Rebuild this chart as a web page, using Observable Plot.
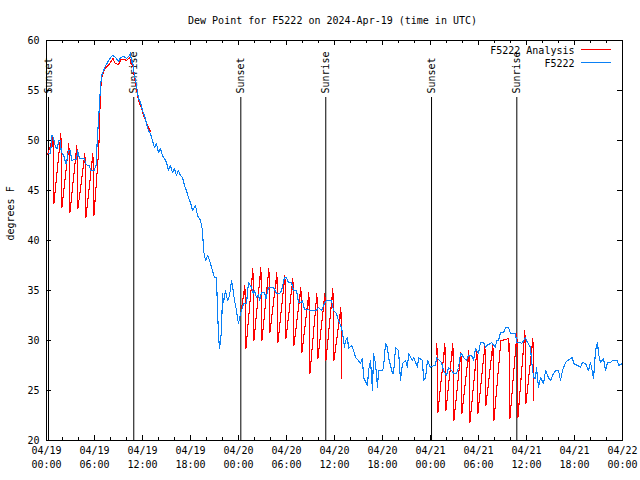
<!DOCTYPE html>
<html><head><meta charset="utf-8">
<script src="https://cdn.jsdelivr.net/npm/d3@7"></script>
<script src="https://cdn.jsdelivr.net/npm/@observablehq/plot@0.6"></script>
<style>body{margin:0;background:#fff} svg{display:block}</style>
</head><body><div id="chart"></div>
<script>
// Observed dew point (F) : [hours since 04/19 00:00 UTC, value]
const obsDewPoint = [
[0.25,48.7],[0.5,48.7],[0.69,50.5],[0.88,50.3],[1.0,49.7],[1.25,49.2],[1.38,49.2],[1.5,50],[1.75,50],[1.84,48.8],
[2.0,48.7],[2.25,48.3],[2.38,47.7],[2.5,47.7],[2.63,48.5],[2.75,49],[3.0,49],[3.13,48],[3.25,48],[3.44,48.1],
[3.75,48.1],[3.88,49],[4.13,48.2],[4.38,48.2],[4.75,48.2],[4.88,47.7],[5.13,47.5],[5.38,47.5],[5.5,47],[6.0,47],
[6.13,47.5],[6.21,47.5],[6.34,50],[6.5,52],[6.75,55.3],[6.88,56.5],[7.13,57],[7.38,57.5],[7.63,57.8],[8.0,58.3],
[8.25,58.5],[8.63,58.3],[9.0,57.9],[9.25,58.3],[9.63,58.4],[10.0,58.2],[10.38,58.5],[10.5,58.8],[10.63,57.8],[10.75,58],
[11.0,56.5],[11.25,55.5],[11.5,54.2],[11.75,53.8],[12.0,53],[12.25,52.5],[12.5,51.7],[12.75,51],[13.0,50.7],[13.25,50],
[13.5,49.3],[13.75,49.7],[14.0,48.8],[14.25,49.2],[14.5,48.5],[14.75,48.2],[15.0,47.8],[15.25,47],[15.5,47.5],[15.75,46.8],
[16.0,47.2],[16.25,46.5],[16.5,47],[16.75,46.5],[17.0,46.3],[17.25,45.5],[17.5,45],[17.75,44.3],[18.0,43.8],[18.25,43],
[18.63,43.5],[18.88,42.5],[19.25,42],[19.5,41],[19.63,39],[19.88,38],[20.13,38.5],[20.38,38],[20.75,37],[21.0,36.3],
[21.25,36.3],[21.38,33],[21.5,30.5],[21.63,29.2],[21.75,30],[21.88,31],[22.0,34.7],[22.13,33.8],[22.38,35],[22.63,34],
[22.88,34.5],[23.13,36],[23.25,35.5],[23.5,34],[23.75,33],[23.88,32.2],[24.0,31.7],[24.25,32.7],[24.38,33],[24.63,33.7],
[25.0,33.7],[25.25,35.8],[25.63,35.3],[25.84,34.7],[26.0,35],[26.25,34.3],[26.5,34.6],[26.63,34],[26.88,34.8],[27.25,34.8],
[27.44,34.2],[27.75,35.3],[28.38,35.3],[28.56,35],[28.75,34.7],[29.13,34.7],[29.38,35],[29.75,36.3],[30.0,36.3],[30.25,35.8],
[30.63,35.8],[30.88,35],[31.25,35],[31.5,33.8],[31.88,33.8],[32.0,34],[32.25,33.1],[32.75,33.1],[32.88,33],[33.75,33],
[34.0,33.3],[34.38,33],[34.75,33.7],[35.0,34],[35.63,34],[35.88,33],[36.25,32.7],[36.5,32],[36.88,31.3],[37.09,30.3],
[37.25,29.3],[37.38,30],[37.63,30.3],[37.75,29.2],[38.13,29.5],[38.38,29],[38.63,28.3],[39.0,28],[39.25,27.7],[39.5,28.2],
[39.63,26.3],[40.13,25.5],[40.25,27],[40.5,28],[40.75,25],[40.88,28.7],[41.13,27.7],[41.38,25.3],[41.5,27],[42.0,27],
[42.13,27.3],[42.38,29.7],[42.63,29.3],[42.75,28.3],[43.25,26.7],[43.38,26.7],[43.63,29.3],[44.0,29],[44.25,26],[44.5,27.7],
[44.88,28],[45.13,27.3],[45.25,28.7],[45.75,28],[45.88,28.3],[46.38,27.3],[46.5,28.3],[47.0,28],[47.13,26],[47.38,26.3],
[47.63,28],[48.0,27.3],[48.38,27.5],[48.63,27.5],[48.75,28.3],[49.38,27.8],[49.63,27],[50.0,26.5],[50.25,27.3],[50.63,27],
[50.88,26.7],[51.25,26.7],[51.5,27.3],[51.75,28.7],[51.88,28.7],[52.13,28.3],[52.5,28],[52.75,28.5],[53.13,28.5],[53.38,28],
[53.63,29.2],[54.0,28.7],[54.25,29.8],[54.63,29.8],[54.88,29.3],[55.0,29.5],[55.5,29.7],[55.63,29.8],[56.13,29.3],[56.25,30],
[56.5,30],[56.75,30.8],[57.13,30.8],[57.38,31.3],[57.75,31.3],[58.0,30.7],[58.63,30.7],[58.75,29.8],[59.25,29.8],[59.38,29.7],
[59.88,30.3],[60.0,30],[60.5,29.3],[60.63,28],[60.88,26.3],[61.13,26.2],[61.25,27.3],[61.5,25.3],[61.75,26.3],[62.13,25.7],
[62.38,27],[62.75,26.3],[63.0,26],[63.38,26.7],[63.63,27],[64.0,27],[64.25,26],[64.5,27],[64.88,27.8],[65.13,28],
[65.75,28.3],[65.88,27.7],[66.38,27.5],[66.75,27.3],[67.0,27.8],[67.38,27.7],[67.75,27],[68.0,27.8],[68.25,26.8],[68.38,26.2],
[68.63,29],[68.88,29.8],[69.0,28.7],[69.25,27.8],[69.63,28.2],[69.88,27],[70.13,27.8],[70.5,27.8],[70.75,28],[71.38,28],
[71.5,27.5],[72.0,27.7]
];

// Analysis (red) — three runs. Each run: lead points, hourly high/low values, tail points
const anaA_lead  = [[0.15,48.6]];
const anaA_hours = [0,1,2,3,4,5];
const anaA_high  = [50.3,50.7,49.7,49.5,48.7,48.7];
const anaA_low   = [43.7,43.3,42.8,43.2,42.3,42.5];
const anaA_tail  = [[6.4,47.6],[6.55,49.5],[6.75,55],[6.9,56.3],[7.1,56.8],[7.4,57.3],[7.7,57.5],[8.0,57.8],[8.3,58.2],[8.6,57.7],
                    [9.0,57.6],[9.3,58.1],[9.7,58.1],[10.0,58.0],[10.4,58.3],[10.6,57.6],[10.8,57.5],[11.0,56.2],[11.3,55],
                    [11.5,54],[11.8,53.4],[12.1,52.6],[12.4,52.0],[12.7,51.4],[13.0,50.9]];

const anaB_lead  = [[24.35,33.0]];
const anaB_hours = [24,25,26,27,28,29,30,31,32,33,34,35,36];
const anaB_high  = [35.5,37.2,37.3,37.2,36.8,36.5,36.2,35.3,34.8,34.7,34.7,35.2,33.3];
const anaB_low   = [29.2,30.0,30.0,30.8,29.8,30.2,29.5,28.8,26.7,28.2,28.0,28.0,26.2];
const anaB_tail  = [];

const anaC_lead  = [];
const anaC_hours = [48,49,50,51,52,53,54,55,56,57,58,59,60];
const anaC_high  = [29.7,29.7,29.7,28.8,29.0,29.0,29.5,29.7,30.0,30.2,30.7,31.0,30.2];
const anaC_low   = [22.8,23.0,22.0,22.7,21.8,22.7,23.5,22.0,30.0,22.2,22.3,23.7,24.0];
const anaC_tail  = [];

// Sun events
const sunHours  = [0.25,10.91,24.29,34.91,48.13,58.79];
const sunLabels = ["Sunset","Sunrise","Sunset","Sunrise","Sunset","Sunrise"];

// Axis ticks
const xTickHours = [0,6,12,18,24,30,36,42,48,54,60,66,72];
const xTickDate  = ["04/19","04/19","04/19","04/19","04/20","04/20","04/20","04/20","04/21","04/21","04/21","04/21","04/22"];
const xTickTime  = ["00:00","06:00","12:00","18:00","00:00","06:00","12:00","18:00","00:00","06:00","12:00","18:00","00:00"];
const xMinorHours = d3.range(0, 73, 2).filter(h => h % 6 !== 0);
const yTicks = [20,25,30,35,40,45,50,55,60];

const titleText = "Dew Point for F5222 on 2024-Apr-19 (time in UTC)";
const yLabel = "degrees F";
const legendNames = ["F5222 Analysis","F5222"];
const RED = "#ff0000", BLUE = "#0a80f5";
const FONT = "DejaVu Sans Mono, monospace";

// ---- build tables
const obs = obsDewPoint.map(([h, v]) => ({h, v}));
function run(name, lead, hours, highs, lows, tail) {
  const pts = lead.map(([h, v]) => ({h, v, run: name}));
  hours.forEach((hr, i) => {
    pts.push({h: hr + 0.8, v: highs[i], run: name});
    pts.push({h: hr + 0.93, v: lows[i], run: name});
  });
  tail.forEach(([h, v]) => pts.push({h, v, run: name}));
  return pts;
}
const analysis = [
  ...run("A", anaA_lead, anaA_hours, anaA_high, anaA_low, anaA_tail),
  ...run("B", anaB_lead, anaB_hours, anaB_high, anaB_low, anaB_tail),
  ...run("C", anaC_lead, anaC_hours, anaC_high, anaC_low, anaC_tail)
];
const sun = sunHours.map((h, i) => ({h, label: sunLabels[i]}));

const chart = Plot.plot({
  width: 640, height: 480,
  marginLeft: 46, marginRight: 18, marginTop: 40, marginBottom: 40,
  style: {fontFamily: FONT, fontSize: "10px", background: "#fff", color: "#000"},
  x: {domain: [0, 72], axis: null},
  y: {domain: [20, 60], axis: null},
  marks: [
    // sunrise / sunset lines and labels
    Plot.ruleX(sun, {x: "h", stroke: "#000", strokeWidth: 1, insetTop: 57}),
    Plot.text(sun, {x: "h", frameAnchor: "top", dy: 53, text: "label", rotate: -90,
      textAnchor: "start", lineAnchor: "middle", fill: "#000", fontSize: 10}),
    // data
    Plot.line(analysis, {x: "h", y: "v", z: "run", stroke: RED, strokeWidth: 1.1, shapeRendering: "crispEdges"}),
    Plot.line(obs, {x: "h", y: "v", stroke: BLUE, strokeWidth: 1.1, shapeRendering: "crispEdges"}),
    // ticks (inward, mirrored)
    Plot.tickX(xTickHours, {x: d => d, insetTop: 395, stroke: "#000"}),
    Plot.tickX(xTickHours, {x: d => d, insetBottom: 395, stroke: "#000"}),
    Plot.tickX(xMinorHours, {x: d => d, insetTop: 397, stroke: "#000"}),
    Plot.tickX(xMinorHours, {x: d => d, insetBottom: 397, stroke: "#000"}),
    Plot.tickY(yTicks, {y: d => d, insetRight: 571, stroke: "#000"}),
    Plot.tickY(yTicks, {y: d => d, insetLeft: 571, stroke: "#000"}),
    Plot.frame({stroke: "#000"}),
    // tick labels
    Plot.text(yTicks, {y: d => d, frameAnchor: "left", dx: -7, textAnchor: "end", text: d => String(d), fill: "#000"}),
    Plot.text(xTickHours, {x: d => d, frameAnchor: "bottom", dy: 13, text: (d, i) => xTickDate[i], fill: "#000"}),
    Plot.text(xTickHours, {x: d => d, frameAnchor: "bottom", dy: 27, text: (d, i) => xTickTime[i], fill: "#000"}),
    // title and axis label
    Plot.text([titleText], {frameAnchor: "top", lineAnchor: "middle", dy: -20, dx: -2, text: d => d, fill: "#000"}),
    Plot.text([yLabel], {frameAnchor: "left", dx: -36, rotate: -90, text: d => d, fill: "#000"}),
    // legend text
    Plot.text([legendNames[0]], {frameAnchor: "top-right", lineAnchor: "middle", dx: -48, dy: 10, textAnchor: "end", text: d => d, fill: "#000"}),
    Plot.text([legendNames[1]], {frameAnchor: "top-right", lineAnchor: "middle", dx: -48, dy: 23, textAnchor: "end", text: d => d, fill: "#000"})
  ]
});
// legend sample lines
const svg = d3.select(chart);
[[RED, 49.5], [BLUE, 62.5]].forEach(([c, y]) => {
  svg.append("line").attr("x1", 581).attr("x2", 611).attr("y1", y).attr("y2", y)
    .attr("stroke", c).attr("stroke-width", 1);
});
document.getElementById("chart").append(chart);
</script>
</body></html>
